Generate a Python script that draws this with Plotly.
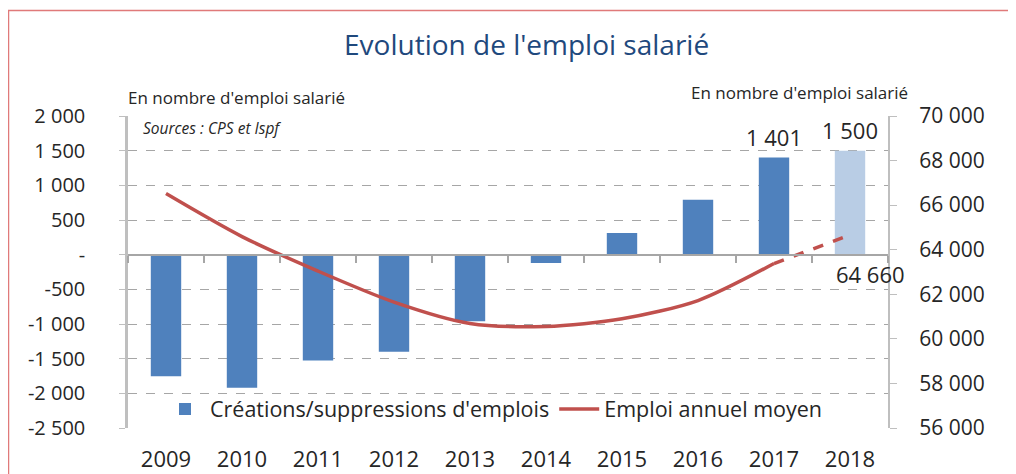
import plotly.graph_objects as go

years = ["2009", "2010", "2011", "2012", "2013", "2014", "2015", "2016", "2017", "2018"]
creations = [-1755, -1920, -1525, -1400, -960, -120, 313, 792, 1401, 1500]
bar_colors = ["#4F81BD"] * 9 + ["#B9CDE5"]
emploi_years = ["2009", "2010", "2011", "2012", "2013", "2014", "2015", "2016", "2017"]
emploi = [66520, 64590, 63040, 61650, 60690, 60560, 60900, 61720, 63380]
proj_years = ["2017", "2018"]
proj_emploi = [63380, 64660]

left_vals = [2000, 1500, 1000, 500, 0, -500, -1000, -1500, -2000, -2500]
left_text = ["2 000", "1 500", "1 000", "500", "-", "-500", "-1 000", "-1 500", "-2 000", "-2 500"]
right_vals = [70000, 68000, 66000, 64000, 62000, 60000, 58000, 56000]
right_text = ["70 000", "68 000", "66 000", "64 000", "62 000", "60 000", "58 000", "56 000"]

labeled_bars = {"2017", "2018"}

FONT = "Open Sans"
TXT = "#262626"
GRID = "#A6A6A6"
AXIS = "#BFBFBF"
RED = "#C0504D"

# the page places the figure 8px from the top-left corner of the window
OFF = 8
WIN_W, WIN_H = 1016, 474
W, H = WIN_W - OFF, WIN_H - OFF
# plot area in window pixels: x 128..888, y 116..428
PL, PR, PT, PB = 128, 888, 116, 428
L, R, T, B = PL - OFF, W - (PR - OFF), PT - OFF, H - (PB - OFF)
pw, ph = PR - PL, PB - PT


def px(x):
    return (x - PL) / pw


def py(y):
    return (PB - y) / ph


def fmt(v):
    return f"{v:,}".replace(",", " ")


fig = go.Figure()
fig.add_trace(go.Bar(
    x=years, y=creations, marker=dict(color=bar_colors, line=dict(width=0)),
    width=0.4, name="Créations/suppressions d'emplois", xaxis="x", yaxis="y",
))
fig.add_trace(go.Scatter(
    x=emploi_years, y=emploi, mode="lines",
    line=dict(color=RED, width=3.5, shape="spline", smoothing=0.8),
    name="Emploi annuel moyen", xaxis="x2", yaxis="y2",
))
fig.add_trace(go.Scatter(
    x=proj_years, y=proj_emploi, mode="lines", line=dict(color=RED, width=3.5, dash="dash"),
    showlegend=False, xaxis="x2", yaxis="y2",
))

annotations = []
for i, (yr, v) in enumerate(zip(years, creations)):
    if yr in labeled_bars:
        annotations.append(dict(x=i, y=v, xref="x", yref="y", text=fmt(v), showarrow=False,
                                yshift=21, font=dict(size=22, color=TXT, family=FONT)))
annotations.append(dict(x=years.index(proj_years[-1]), y=proj_emploi[-1], xref="x2", yref="y2",
                        text=fmt(proj_emploi[-1]), showarrow=False, xshift=20, yshift=-39,
                        font=dict(size=22, color=TXT, family=FONT)))
annotations.append(dict(x=px(236), y=py(97), xref="paper", yref="paper", xanchor="center",
                        yanchor="middle", text="En nombre d'emploi salarié",
                        showarrow=False, font=dict(size=17, color=TXT, family=FONT)))
annotations.append(dict(x=px(799), y=py(92), xref="paper", yref="paper", xanchor="center",
                        yanchor="middle", text="En nombre d'emploi salarié",
                        showarrow=False, font=dict(size=17, color=TXT, family=FONT)))
annotations.append(dict(x=px(141), y=py(128), xref="paper", yref="paper", xanchor="left",
                        yanchor="middle", text="<i>Sources : CPS et Ispf</i>",
                        showarrow=False, font=dict(size=15.5, color=TXT, family=FONT)))

xcommon = dict(type="category", categoryorder="array", categoryarray=years,
               range=[-0.5, len(years) - 0.5], autorange=False, domain=[0, 1])

fig.update_layout(
    width=W, height=H,
    margin=dict(l=L, r=R, t=T, b=B, autoexpand=False),
    paper_bgcolor="white", plot_bgcolor="white",
    font=dict(family=FONT, color=TXT),
    title=dict(text="Evolution de l'emploi salarié", x=px(519), xanchor="center",
               y=(H - (45 - OFF)) / H, yanchor="middle",
               font=dict(size=28, color="#1F497D", family=FONT)),
    showlegend=True,
    legend=dict(orientation="h", x=px(160), y=py(409), xanchor="left", yanchor="middle",
                bgcolor="rgba(0,0,0,0)", font=dict(size=21.5, color=TXT, family=FONT),
                itemwidth=40, tracegroupgap=0),
    xaxis=dict(**xcommon, showline=False, showgrid=False, zeroline=False, ticks="outside",
               ticklen=12, tickcolor="rgba(0,0,0,0)",
               tickfont=dict(size=22, color=TXT, family=FONT), anchor="y"),
    xaxis2=dict(**xcommon, overlaying="x", anchor="free", position=2500 / 4500, showline=True,
                linecolor=GRID, linewidth=2, ticks="outside", tickson="boundaries", ticklen=7,
                tickcolor=GRID, tickwidth=1.5, showticklabels=False, showgrid=False,
                zeroline=False),
    yaxis=dict(range=[-2500, 2000], autorange=False, tickvals=left_vals, ticktext=left_text,
               showgrid=True, gridcolor=GRID, griddash="dash", gridwidth=1.3, zeroline=False,
               showline=True, linecolor=AXIS, linewidth=2.5, ticks="outside", ticklen=6,
               tickcolor=AXIS, ticklabelstandoff=30,
               tickfont=dict(size=20, color=TXT, family=FONT), anchor="x"),
    yaxis2=dict(range=[56000, 70000], autorange=False, tickvals=right_vals, ticktext=right_text,
                overlaying="y", side="right", anchor="x", showgrid=False, zeroline=False,
                showline=True, linecolor=AXIS, linewidth=2, ticks="outside", ticklen=7,
                tickcolor=AXIS, ticklabelstandoff=18,
                tickfont=dict(size=21, color=TXT, family=FONT)),
    annotations=annotations,
    shapes=[dict(type="rect", xref="paper", yref="paper", x0=px(8.5), x1=px(1040), y0=py(520),
                 y1=py(10.5), line=dict(color="#E07A7A", width=1.5),
                 fillcolor="rgba(0,0,0,0)", layer="below")],
)

fig.write_html("out.html")
